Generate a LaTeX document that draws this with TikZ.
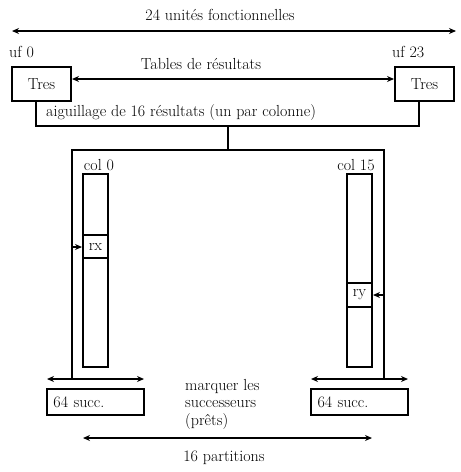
\documentclass[tikz,border=0pt]{standalone}
\usetikzlibrary{arrows.meta,calc}
\begin{document}
\begin{tikzpicture}[x=1pt,y=-1pt,
  every node/.style={font=\fontsize{16}{17.5}\selectfont, inner sep=0pt},
  ln/.style={line width=2pt},
  tip/.style={-{Stealth[length=7pt,width=6pt]}},
  dtip/.style={{Stealth[length=7pt,width=6pt]}-{Stealth[length=7pt,width=6pt]}},
  box/.style={draw, line width=2pt, rectangle},
  lbl/.style={}]
\useasboundingbox (0,0) rectangle (461,472);
% labels
\node[lbl] (title) at (220,15) {24 unités fonctionnelles};
\coordinate (tl) at (12,31);
\coordinate (tr) at (456,31);
\draw[ln, line width=2.4pt, dtip] (tl) -- (tr);
\node[lbl, anchor=west] (uf0) at (9,52) {uf 0};
\node[lbl, anchor=west] (uf23) at (392,52) {uf 23};
% Tres boxes
\node[box, minimum width=59pt, minimum height=34pt] (tresL) at (41.5,84) {Tres};
\node[box, minimum width=59pt, minimum height=34pt] (tresR) at (424.5,84) {Tres};
\node[lbl] (tables) at (201,64) {Tables de résultats};
\coordinate (tabY) at (0,79);
\draw[ln, dtip] (tresL.east |- tabY) -- (tresR.west |- tabY);
% aiguillage
\node[lbl, anchor=west] (aig) at (46,113) {aiguillage de 16 résultats (un par colonne)};
\coordinate (aL) at (36,126);
\coordinate (aR) at (419,126);
\coordinate (aM) at (228,126);
\draw[ln] (tresL.south -| aL) -- (aL) -- (aR) -- (tresR.south -| aR);
\coordinate (fM) at (228,150);
\draw[line width=1.5pt] (aM) -- (fM);
% frame
\coordinate (fTL) at (72,150);
\coordinate (fTR) at (384,150);
\coordinate (fBL) at (72,379);
\coordinate (fBR) at (384,379);
\draw[ln] (fBL) -- (fTL) -- (fTR) -- (fBR);
% columns
\node[lbl] (c0lab) at (99,165) {col 0};
\node[lbl] (c15lab) at (356,165) {col 15};
\node[box, minimum width=25pt, minimum height=193pt] (col0) at (95.5,270.5) {};
\node[box, minimum width=25pt, minimum height=193pt] (col15) at (359.5,270.5) {};
\node[box, minimum width=25pt, minimum height=23pt] (rx) at (95.5,246.5) {rx};
\node[box, minimum width=25pt, minimum height=24pt] (ry) at (359.5,295) {ry};
\coordinate (rxs) at (72,247);
\coordinate (rys) at (384,295);
\draw[ln, tip] (rxs) -- (rx.west |- rxs);
\draw[ln, tip] (rys) -- (ry.east |- rys);
% bottom
\coordinate (bl1) at (47,379);
\coordinate (bl2) at (144,379);
\coordinate (br1) at (311,379);
\coordinate (br2) at (408,379);
\draw[ln, dtip] (bl1) -- (bl2);
\draw[ln, dtip] (br1) -- (br2);
\node[box, minimum width=97pt, minimum height=26pt, text width=80pt, align=left] (sL) at (95.5,402) {\hspace*{-2pt}64 succ.};
\node[box, minimum width=97pt, minimum height=26pt, text width=80pt, align=left] (sR) at (359.5,402) {\hspace*{-2pt}64 succ.};
\node[lbl, anchor=west, align=left] (marq) at (185,404) {marquer les\\successeurs\\(prêts)};
\coordinate (p1) at (83,438);
\coordinate (p2) at (372,438);
\draw[ln, dtip] (p1) -- (p2);
\node[lbl] (part) at (224,458) {16 partitions};
\end{tikzpicture}
\end{document}
